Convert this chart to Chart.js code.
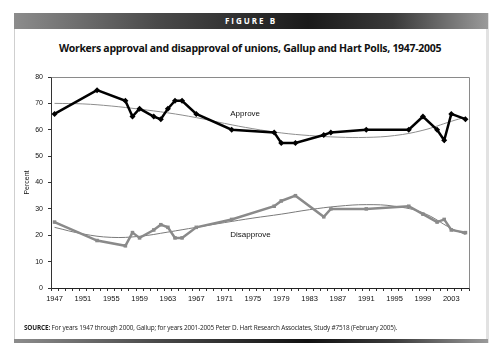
<!DOCTYPE html>
<html>
<head>
<meta charset="utf-8">
<script src="https://cdn.jsdelivr.net/npm/chart.js@4/dist/chart.umd.min.js"></script>
<style>
  html, body { margin: 0; padding: 0; background: #fff; }
  body { width: 500px; height: 360px; position: relative; overflow: hidden; font-family: "Liberation Sans", Arial, sans-serif; }
  #box { position: absolute; left: 14px; top: 13px; width: 471px; height: 330px; border-left: 1px solid #cfcfcf; border-right: 3px solid #e2e2e2; background: #fff; }
  #hdr { position: absolute; left: 14px; top: 13px; width: 474px; height: 16px;
         background: linear-gradient(to right, #8c8c8c 0%, #4a4a4a 30%, #1a1a1a 62%, #3a3a3a 80%, #9a9a9a 100%);
         color: #fff; font: bold 8px "Open Sans", "Liberation Sans", sans-serif; letter-spacing: 2px; text-align: center; line-height: 16px; }
  #title { position: absolute; left: 0; width: 500px; top: 41px; text-align: center; font: bold 10.5px "Open Sans", "Liberation Sans", sans-serif; color: #111; letter-spacing: -0.3px; }
  #src { position: absolute; left: 24px; top: 323px; font: 6.4px "Open Sans", "Liberation Sans", sans-serif; color: #222; white-space: nowrap; letter-spacing: -0.15px; }
  #ftr { position: absolute; left: 14px; top: 339px; width: 474px; height: 4px;
         background: linear-gradient(to right, #8c8c8c 0%, #4a4a4a 30%, #111 62%, #3a3a3a 80%, #9a9a9a 100%); }
  #wrap { position: absolute; left: 0; top: 0; width: 500px; height: 360px; }
</style>
</head>
<body>
<div id="box"></div>
<div id="hdr">FIGURE B</div>
<div id="title">Workers approval and disapproval of unions, Gallup and Hart Polls, 1947-2005</div>
<div id="wrap"><canvas id="c" width="500" height="360"></canvas></div>
<div id="src"><b>SOURCE:</b> For years 1947 through 2000, Gallup; for years 2001-2005 Peter D. Hart Research Associates, Study #7518 (February 2005).</div>
<div id="ftr"></div>
<script>
// ---- data ----
const firstYear = 1947, lastYear = 2005;
const yearLabels = [];
for (let y = firstYear; y <= lastYear; y++) yearLabels.push(String(y));

const approveYears  = [1947, 1953, 1957, 1958, 1959, 1961, 1962, 1963, 1964, 1965, 1967, 1972, 1978, 1979, 1981, 1985, 1986, 1991, 1997, 1999, 2001, 2002, 2003, 2005];
const approveValues = [66,   75,   71,   65,   68,   65,   64,   68,   71,   71,   66,   60,   59,   55,   55,   58,   59,   60,   60,   65,   60,   56,   66,   64];

const disapproveYears  = [1947, 1953, 1957, 1958, 1959, 1961, 1962, 1963, 1964, 1965, 1967, 1972, 1978, 1979, 1981, 1985, 1986, 1991, 1997, 1999, 2001, 2002, 2003, 2005];
const disapproveValues = [25,   18,   16,   21,   19,   22,   24,   23,   19,   19,   23,   26,   31,   33,   35,   27,   30,   30,   31,   28,   25,   26,   22,   21];

// trend lines at sample years
const approveTrendYears  = [1947, 1951, 1955, 1959, 1963, 1967, 1971, 1975, 1979, 1983, 1987, 1991, 1995, 1999, 2003, 2005];
const approveTrendValues = [70, 69.8, 69, 67.8, 66.4, 64.6, 62.4, 60.4, 58.8, 57.8, 57.2, 57.1, 57.8, 59.8, 63.2, 64.8];
const disapproveTrendYears  = [1947, 1951, 1955, 1959, 1963, 1967, 1971, 1975, 1979, 1983, 1987, 1991, 1995, 1999, 2003, 2005];
const disapproveTrendValues = [23, 20.5, 19.2, 19.6, 21.2, 23, 24.8, 26.5, 28, 29.7, 31, 31.6, 31, 28.5, 22.6, 20.3];

const yTicks = [0, 10, 20, 30, 40, 50, 60, 70, 80];

function pts(years, vals) { return years.map((y, i) => ({ x: String(y), y: vals[i] })); }

const plotFrame = {
  id: 'plotFrame',
  afterDatasetsDraw(chart) {
    const a = chart.chartArea, ctx = chart.ctx;
    ctx.save();
    ctx.strokeStyle = '#8a8a8a';
    ctx.lineWidth = 1;
    ctx.beginPath();
    ctx.moveTo(Math.round(a.left) + 0.5, Math.round(a.top) + 0.5);
    ctx.lineTo(Math.round(a.right) + 0.5, Math.round(a.top) + 0.5);
    ctx.lineTo(Math.round(a.right) + 0.5, Math.round(a.bottom) + 0.5);
    ctx.stroke();
    // series labels
    const xs = chart.scales.x, ys = chart.scales.y;
    ctx.fillStyle = '#111';
    ctx.font = '8px "Liberation Sans", Arial, sans-serif';
    ctx.textAlign = 'left';
    ctx.textBaseline = 'middle';
    ctx.fillText('Approve', xs.getPixelForValue(24.8), ys.getPixelForValue(66));
    ctx.fillText('Disapprove', xs.getPixelForValue(24.8), ys.getPixelForValue(20));
    ctx.restore();
  }
};

new Chart(document.getElementById('c'), {
  type: 'line',
  data: {
    labels: yearLabels,
    datasets: [
      { label: 'Approve trend', data: pts(approveTrendYears, approveTrendValues), borderColor: '#8e8e8e', borderWidth: 1, pointRadius: 0, tension: 0.4, order: 3 },
      { label: 'Disapprove trend', data: pts(disapproveTrendYears, disapproveTrendValues), borderColor: '#7a7a7a', borderWidth: 1, pointRadius: 0, tension: 0.4, order: 3 },
      { label: 'Disapprove', data: pts(disapproveYears, disapproveValues), borderColor: '#8a8a8a', backgroundColor: '#8a8a8a', borderWidth: 2.5, pointStyle: 'rect', pointRadius: 2.5, pointBorderWidth: 0, tension: 0, order: 2 },
      { label: 'Approve', data: pts(approveYears, approveValues), borderColor: '#000', backgroundColor: '#000', borderWidth: 2.5, pointStyle: 'rectRot', pointRadius: 3, pointBorderWidth: 0, tension: 0, order: 1 }
    ]
  },
  options: {
    responsive: false,
    animation: false,
    devicePixelRatio: 1,
    layout: { padding: { left: 23, top: 77, right: 31, bottom: 52 } },
    plugins: { legend: { display: false }, tooltip: { enabled: false } },
    scales: {
      x: {
        type: 'category',
        offset: true,
        grid: { display: true, drawOnChartArea: false, drawTicks: true, tickLength: 3, color: '#333', offset: true },
        border: { display: true, color: '#222', width: 1 },
        ticks: {
          autoSkip: false, maxRotation: 0, minRotation: 0, padding: 3, color: '#111',
          font: { family: '"Liberation Sans Narrow", "Liberation Sans", Arial, sans-serif', size: 7.5 },
          callback: function (v, i) { return (i % 4 === 0) ? yearLabels[i] : ''; }
        },
        afterFit(s) { s.height = 20; }
      },
      y: {
        min: 0, max: 80,
        afterBuildTicks(s) { s.ticks = yTicks.map(v => ({ value: v })); },
        grid: { display: true, drawOnChartArea: false, drawTicks: true, tickLength: 3, color: '#333' },
        border: { display: true, color: '#333', width: 1 },
        ticks: { padding: 5, color: '#111', font: { family: '"Liberation Sans", Arial, sans-serif', size: 7 } },
        title: { display: true, text: 'Percent', color: '#111', font: { family: '"Liberation Sans", Arial, sans-serif', size: 7 }, padding: { top: 0, bottom: 0 } },
        afterFit(s) { s.width = 28; }
      }
    }
  },
  plugins: [plotFrame]
});
</script>
</body>
</html>
